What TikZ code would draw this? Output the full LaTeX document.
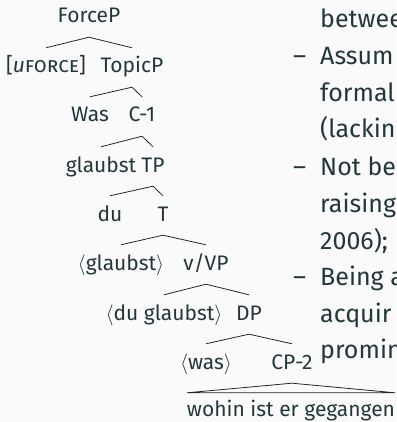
\documentclass[tikz,border=0pt]{standalone}
\usepackage{fontspec}
\setmainfont{Fira Sans}
\usepackage{tikz}
\definecolor{mtext}{HTML}{23373B}
\definecolor{mbg}{HTML}{FAFAFA}
\tikzset{
  cat/.style={anchor=base, inner xsep=2pt, inner ysep=10pt, text height=15pt, text depth=4pt,
    font=\fontsize{21}{25}\selectfont, text=mtext},
  roofcat/.style={cat, inner xsep=0pt, inner ysep=8pt},
  itemtxt/.style={anchor=base west, inner sep=0pt, font=\fontsize{25}{30}\selectfont, text=mtext},
  branch/.style={line width=0.8pt, black!85},
}

\begin{document}
\begin{tikzpicture}[x=1pt, y=-1pt]
		%%%%% START %%%%%
		
		\useasboundingbox (0, 0) rectangle (396, 422);
		\clip (0, 0) rectangle (396, 422);
		\fill[mbg] (0, 0) rectangle (396, 422);
		
		% tree
		\node[cat] (forcep) at (89, 23) {ForceP};
		\node[cat] (uforce) at (46, 73) {[\textit{u}\textsc{force}]};
		\node[cat] (topicp) at (132, 73) {TopicP};
		\node[cat] (was) at (90, 122) {Was};
		\node[cat] (cone) at (142, 122) {C-1};
		\node[cat] (glaubst) at (101, 172) {glaubst};
		\node[cat] (tp) at (153, 172) {TP};
		\node[cat] (du) at (110, 221) {du};
		\node[cat] (t) at (163, 221) {T};
		\node[cat] (glaubsttr) at (121, 270) {$\langle$glaubst$\rangle$};
		\node[cat] (vvp) at (206, 270) {v/VP};
		\node[cat] (duglaubst) at (164, 320) {$\langle$du glaubst$\rangle$};
		\node[cat] (dp) at (249, 320) {DP};
		\node[cat] (wastr) at (206, 369) {$\langle$was$\rangle$};
		\node[cat] (cptwo) at (292, 369) {CP-2};
		\node[roofcat] (roof) at (291, 416) {wohin ist er gegangen};
		
		\draw[branch] (uforce.north) -- (forcep.south) -- (topicp.north);
		\draw[branch] (was.north) -- (topicp.south) -- (cone.north);
		\draw[branch] (glaubst.north) -- (cone.south) -- (tp.north);
		\draw[branch] (du.north) -- (tp.south) -- (t.north);
		\draw[branch] (glaubsttr.north) -- (t.south) -- (vvp.north);
		\draw[branch] (duglaubst.north) -- (vvp.south) -- (dp.north);
		\draw[branch] (wastr.north) -- (dp.south) -- (cptwo.north);
		\draw[branch] (roof.north west) -- (cptwo.south) -- (roof.north east) -- cycle;
		
		% list on the right
		\node[itemtxt] (l1) at (320, 28) {betwee};
		\node[itemtxt] (d1) at (293, 65) {\textendash};
		\node[itemtxt] (l2) at (320, 65) {Assum};
		\node[itemtxt] (l3) at (320, 102) {formal};
		\node[itemtxt] (l4) at (320, 138) {(lackin};
		\node[itemtxt] (d2) at (293, 175) {\textendash};
		\node[itemtxt] (l5) at (320, 175) {Not be};
		\node[itemtxt] (l6) at (320, 212) {raising};
		\node[itemtxt] (l7) at (320, 249) {2006);};
		\node[itemtxt] (d3) at (293, 285) {\textendash};
		\node[itemtxt] (l8) at (320, 285) {Being a};
		\node[itemtxt] (l9) at (320, 322) {acquir};
		\node[itemtxt] (l10) at (320, 358) {promin};
		
		%%%%% END %%%%%
	\end{tikzpicture}
\end{document}
